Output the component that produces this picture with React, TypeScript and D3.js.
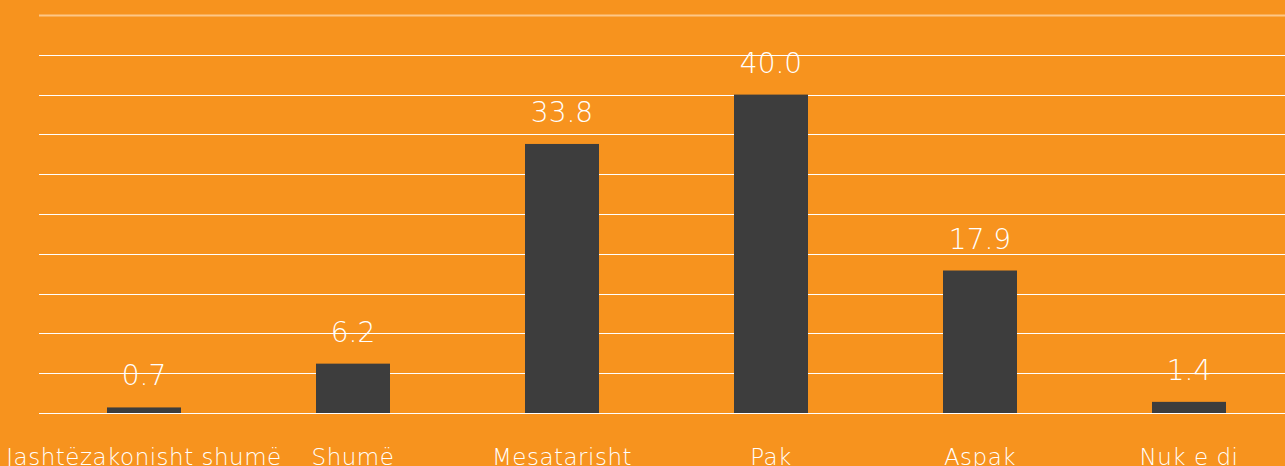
import React from "react";
import * as d3 from "d3";

const categories = ["Jashtëzakonisht shumë", "Shumë", "Mesatarisht", "Pak", "Aspak", "Nuk e di"];
const values = [0.7, 6.2, 33.8, 40.0, 17.9, 1.4];
const gridTicks = [0, 5, 10, 15, 20, 25, 30, 35, 40, 45, 50];

const W = 1285;
const H = 466;
const BG = "#F7931E";
const BAR = "#3D3D3D";
const FONT = "'DejaVu Sans', 'Open Sans', sans-serif";

export default function App() {
  const x = d3
    .scaleBand<string>()
    .domain(categories)
    .range([39.5, 1293.5])
    .paddingInner(0.646)
    .paddingOuter(0.323);
  const y = d3.scaleLinear().domain([0, 50]).range([413, 15]);

  return (
    <div style={{ position: "fixed", left: 0, top: 0, width: W, height: H, background: BG }}>
      <svg width={W} height={H} style={{ display: "block" }}>
        <rect x={0} y={0} width={W} height={H} fill={BG} />
        {gridTicks.map((t) => (
          <line
            key={t}
            x1={39}
            x2={W}
            y1={Math.round(y(t)) + 0.5}
            y2={Math.round(y(t)) + 0.5}
            stroke={t === 50 ? "#FDC787" : "#FFFFFF"}
            strokeWidth={t === 50 ? 2 : 1}
          />
        ))}
        {categories.map((c, i) => (
          <rect
            key={c}
            x={x(c)}
            y={y(values[i])}
            width={x.bandwidth()}
            height={y(0) - y(values[i])}
            fill={BAR}
          />
        ))}
        {categories.map((c, i) => (
          <text
            key={"v" + c}
            x={(x(c) as number) + x.bandwidth() / 2}
            y={y(values[i]) - 22}
            textAnchor="middle"
            fill="#FFFFFF"
            fontFamily={FONT}
            fontWeight={200}
            fontSize={28}
          >
            {values[i].toFixed(1)}
          </text>
        ))}
        {categories.map((c) => (
          <text
            key={"c" + c}
            x={(x(c) as number) + x.bandwidth() / 2}
            y={464.5}
            textAnchor="middle"
            fill="#FFFFFF"
            fontFamily={FONT}
            fontWeight={200}
            fontSize={23}
            letterSpacing={0.5}
          >
            {c}
          </text>
        ))}
      </svg>
    </div>
  );
}
